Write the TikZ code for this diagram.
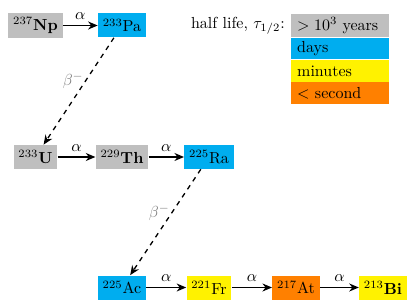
\documentclass[tikz,border=0pt]{standalone}
\usetikzlibrary{arrows.meta}
\begin{document}
\begin{tikzpicture}[x=0.625pt,y=-0.625pt,
  nuc/.style={inner sep=3pt,minimum height=15pt,anchor=center},
  slow/.style={nuc,fill=gray!50},
  dayc/.style={nuc,fill=cyan},
  minc/.style={nuc,fill=yellow},
  secc/.style={nuc,fill=orange},
  leg/.style={minimum height=13.6pt,inner xsep=4pt,inner ysep=2pt,text width=53.5pt,align=left,anchor=north west},
  alpha/.style={thick,-{Stealth[length=6pt,width=5pt]}},
  beta/.style={thick,dashed,-{Stealth[length=6pt,width=5pt]}},
  blab/.style={text=gray,inner sep=1pt}
]
\useasboundingbox (0,0) rectangle (416,308);
\node[slow] (Np) at (35.5,25.5) {$^{237}$\textbf{Np}};
\node[dayc] (Pa) at (122,25.5) {$^{233}$Pa};
\node[slow] (U) at (35.5,157) {$^{233}$\textbf{U}};
\node[slow] (Th) at (122,157) {$^{229}$\textbf{Th}};
\node[dayc] (Ra) at (209,157) {$^{225}$Ra};
\node[dayc] (Ac) at (122,287.5) {$^{225}$Ac};
\node[minc] (Fr) at (209,287.5) {$^{221}$Fr};
\node[secc] (At) at (296,287.5) {$^{217}$At};
\node[minc] (Bi) at (383,287.5) {$^{213}$\textbf{Bi}};
\draw[alpha] (Np) -- node[above] {$\alpha$} (Pa);
\draw[alpha] (U) -- node[above] {$\alpha$} (Th);
\draw[alpha] (Th) -- node[above] {$\alpha$} (Ra);
\draw[alpha] (Ac) -- node[above] {$\alpha$} (Fr);
\draw[alpha] (Fr) -- node[above] {$\alpha$} (At);
\draw[alpha] (At) -- node[above] {$\alpha$} (Bi);
\draw[beta] (Pa) -- node[left,blab,pos=0.4] {$\beta^-$} (U);
\draw[beta] (Ra) -- node[left,blab,pos=0.41] {$\beta^-$} (Ac);
\node[leg,fill=gray!50] (L1) at (290.5,14) {$>10^3$ years};
\node[leg,fill=cyan] (L2) at (L1.south west) {days};
\node[leg,fill=yellow] (L3) at (L2.south west) {minutes};
\node[leg,fill=orange] (L4) at (L3.south west) {$<$ second};
\node[anchor=east] (T) at (L1.west) {half life, $\tau_{1/2}$:};
\end{tikzpicture}
\end{document}
